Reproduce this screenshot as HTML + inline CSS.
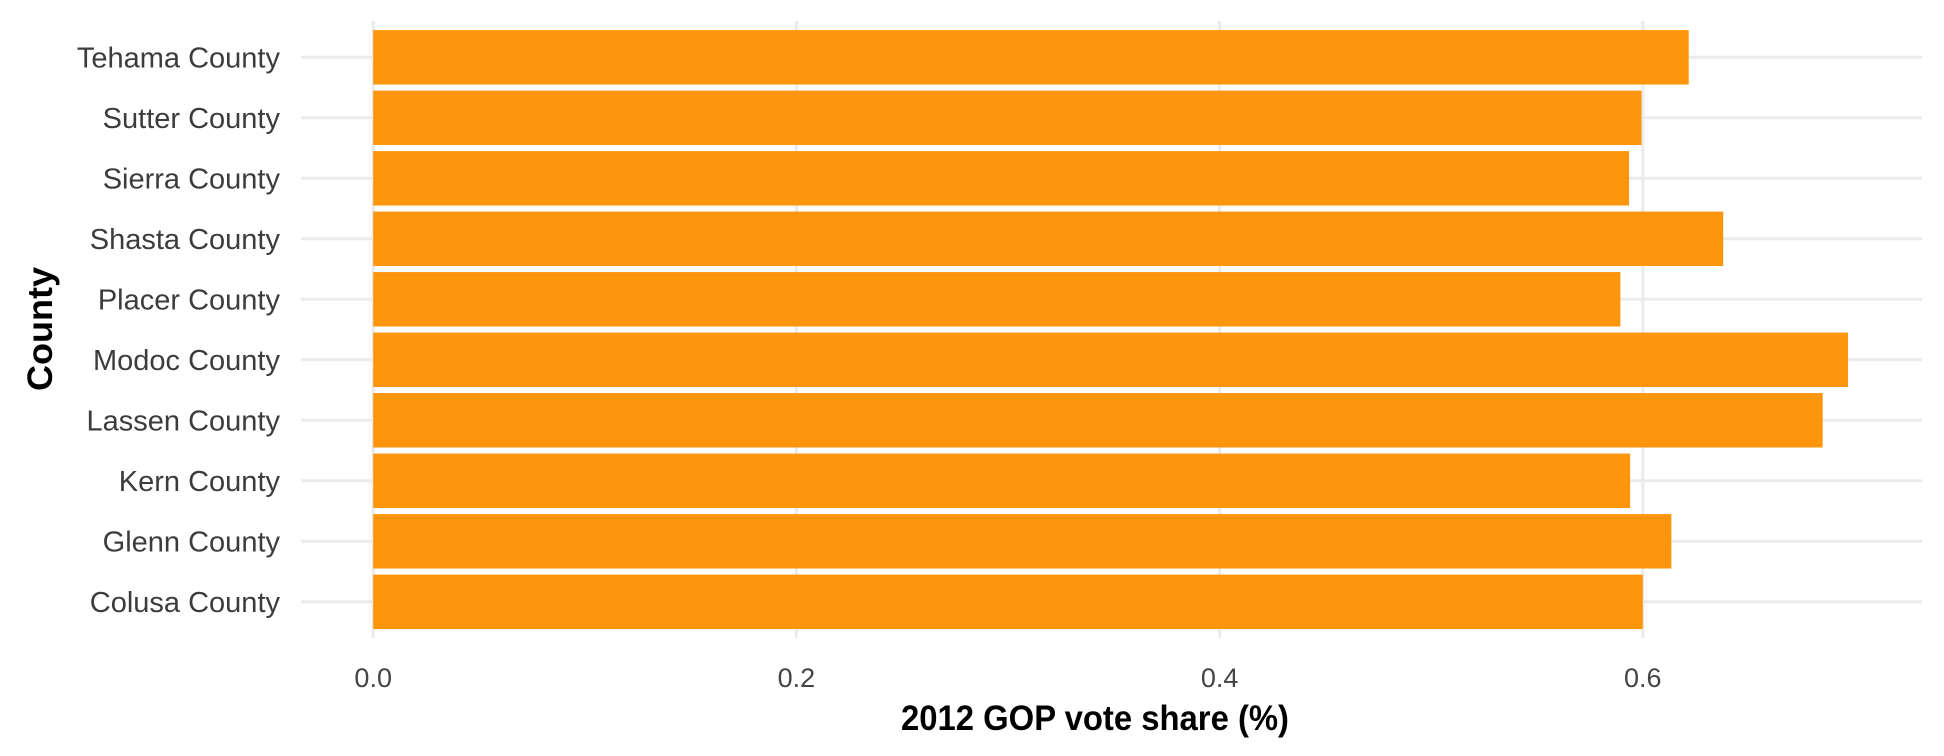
<!DOCTYPE html>
<html><head><meta charset="utf-8"><style>
html,body{margin:0;padding:0;background:#fff;}
svg{display:block;font-family:"Liberation Sans",sans-serif;}
</style></head><body>
<svg id="chart" width="1944" height="756" viewBox="0 0 1944 756" xmlns="http://www.w3.org/2000/svg">
<g id="grid"></g>
<g id="bars"></g>
<g id="ylabels"></g>
<g id="xlabels"></g>
<text x="1095" y="730" text-anchor="middle" font-size="35" font-weight="bold" fill="#000" textLength="388" lengthAdjust="spacingAndGlyphs">2012 GOP vote share (%)</text>
<text transform="translate(52,329) rotate(-90)" text-anchor="middle" font-size="35" font-weight="bold" fill="#000" textLength="124" lengthAdjust="spacingAndGlyphs">County</text>
</svg>
<script>
const categories = ["Tehama County","Sutter County","Sierra County","Shasta County","Placer County","Modoc County","Lassen County","Kern County","Glenn County","Colusa County"];
const values = [0.6217,0.5994,0.5935,0.638,0.5894,0.697,0.685,0.594,0.6135,0.600];
const xTicks = [0,0.2,0.4,0.6];
const xTickLabels = ["0.0","0.2","0.4","0.6"];

const NS = "http://www.w3.org/2000/svg";
const x0 = 373.2, unit = 2116;
const xScale = v => x0 + v * unit;
const plotTop = 21, band = 60.5, plotLeft = 301, plotRight = 1922;
const yCenter = i => plotTop + band * 0.6 + i * band;
const plotBottom = yCenter(categories.length - 1) + band * 0.6;
function mk(tag, attrs, parent){const e=document.createElementNS(NS,tag);for(const k in attrs)e.setAttribute(k,attrs[k]);parent.appendChild(e);return e;}
const grid=document.getElementById('grid'), bars=document.getElementById('bars'), yl=document.getElementById('ylabels'), xl=document.getElementById('xlabels');
xTicks.forEach((t,i)=>{
  const l=mk('line',{x1:xScale(t),x2:xScale(t),y1:plotTop,y2:plotBottom,stroke:'#ebebeb','stroke-width':3},grid);
  
  
  const tx=mk('text',{x:xScale(t),y:687,'text-anchor':'middle','font-size':27,fill:'#444'},xl);
  tx.textContent=xTickLabels[i];
  
  
});
categories.forEach((c,i)=>{
  const y=yCenter(i);
  const g=mk('line',{x1:plotLeft,x2:plotRight,y1:y,y2:y,stroke:'#ebebeb','stroke-width':3},grid);
  
  
  const h=band*0.9;
  const r=mk('rect',{x:xScale(0),y:y-h/2,width:xScale(values[i])-xScale(0),height:h,fill:'#fd950d'},bars);
  
  
  const t=mk('text',{x:280,y:y+10,'text-anchor':'end','font-size':29,fill:'#3c3c3c'},yl);
  t.textContent=c;
  
  
});
</script>
</body></html>
